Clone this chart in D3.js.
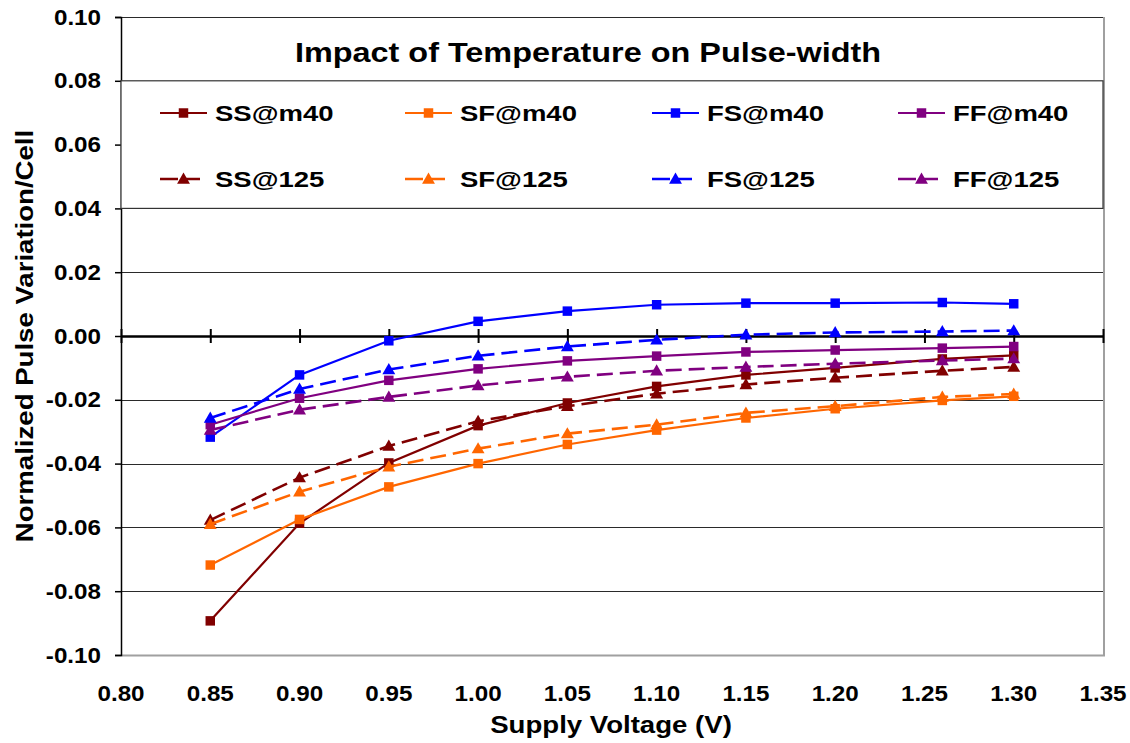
<!DOCTYPE html>
<html>
<head>
<meta charset="utf-8">
<script src="https://cdn.jsdelivr.net/npm/d3@7"></script>
<style>
  body { margin: 0; background: #fff; }
  text { font-family: "Liberation Sans", Arial, sans-serif; font-weight: bold; fill: #000; }
</style>
</head>
<body>
<svg id="chart"></svg>
<script>
// supply voltage (V)
const voltage = [0.85, 0.90, 0.95, 1.00, 1.05, 1.10, 1.15, 1.20, 1.26, 1.30];

// normalized pulse variation per cell
const ssM40 = [-0.0893, -0.0587, -0.0398, -0.0281, -0.0210, -0.0158, -0.0122, -0.0100, -0.0072, -0.0061];
const sfM40 = [-0.0718, -0.0575, -0.0473, -0.0400, -0.0340, -0.0295, -0.0257, -0.0228, -0.0202, -0.0189];
const fsM40 = [-0.0317, -0.0122, -0.0015, 0.0046, 0.0078, 0.0098, 0.0103, 0.0103, 0.0105, 0.0101];
const ffM40 = [-0.0278, -0.0195, -0.0139, -0.0103, -0.0078, -0.0063, -0.0050, -0.0044, -0.0038, -0.0033];
const ss125 = [-0.0577, -0.0444, -0.0345, -0.0267, -0.0220, -0.0181, -0.0152, -0.0131, -0.0109, -0.0097];
const sf125 = [-0.0590, -0.0488, -0.0410, -0.0353, -0.0306, -0.0278, -0.0241, -0.0220, -0.0191, -0.0182];
const fs125 = [-0.0257, -0.0166, -0.0105, -0.0062, -0.0033, -0.0012, 0.0004, 0.0011, 0.0014, 0.0017];
const ff125 = [-0.0295, -0.0231, -0.0191, -0.0155, -0.0128, -0.0109, -0.0097, -0.0087, -0.0077, -0.0071];

const seriesNames = ["SS@m40", "SF@m40", "FS@m40", "FF@m40", "SS@125", "SF@125", "FS@125", "FF@125"];
const seriesValues = [ssM40, sfM40, fsM40, ffM40, ss125, sf125, fs125, ff125];

const xTicks = [0.80, 0.85, 0.90, 0.95, 1.00, 1.05, 1.10, 1.15, 1.20, 1.25, 1.30, 1.35];
const yTicks = [-0.10, -0.08, -0.06, -0.04, -0.02, 0.00, 0.02, 0.04, 0.06, 0.08, 0.10];

const colors = { SS: "#800000", SF: "#ff6600", FS: "#0000ff", FF: "#800080" };

const width = 1130;
const height = 743;
const plotLeft = 121, plotRight = 1103, plotTop = 17, plotBottom = 655;
const stretch = 1.2; // the original text is drawn wider than Arial

const svg = d3.select("#chart")
    .attr("width", width)
    .attr("height", height);

const x = d3.scaleLinear().domain([0.80, 1.35]).range([plotLeft, plotRight]);
const y = d3.scaleLinear().domain([-0.10, 0.10]).range([plotBottom, plotTop]);

function label(g, str, px, py, size, anchor, rotate, sx) {
    const t = g.append("g")
        .attr("transform", `translate(${px},${py})` + (rotate ? " rotate(-90)" : "") + ` scale(${sx || stretch},1)`);
    t.append("text")
        .attr("text-anchor", anchor)
        .attr("dominant-baseline", "central")
        .style("font-size", size + "px")
        .text(str);
}

// plot frame
svg.append("line").attr("x1", plotRight + 1).attr("x2", plotRight + 1).attr("y1", plotTop).attr("y2", plotBottom)
    .attr("stroke", "#a0a0a0").attr("stroke-width", 2);
svg.append("line").attr("x1", plotLeft).attr("x2", plotRight + 2).attr("y1", plotBottom + 0.5).attr("y2", plotBottom + 0.5)
    .attr("stroke", "#a0a0a0").attr("stroke-width", 2);

// gridlines
svg.append("g")
    .selectAll("line")
    .data(yTicks.filter(d => d !== 0 && d !== -0.10))
    .enter().append("line")
    .attr("x1", plotLeft).attr("x2", plotRight)
    .attr("y1", d => Math.round(y(d)) + 0.5).attr("y2", d => Math.round(y(d)) + 0.5)
    .attr("stroke", "#2a2a2a").attr("stroke-width", 1.2);

// y axis on the left
const yAxis = svg.append("g").attr("transform", `translate(${plotLeft},0)`)
    .call(d3.axisLeft(y).tickValues(yTicks).tickSize(6).tickFormat(""));
yAxis.select(".domain").attr("stroke", "#000").attr("stroke-width", 1.5);
yAxis.selectAll(".tick line").attr("stroke", "#000").attr("stroke-width", 1.5);

yTicks.forEach(v => label(svg, v.toFixed(2), 101, y(v), 22, "end", false, 1.1));

// x axis crossing at zero
const xAxis = svg.append("g").attr("transform", `translate(0,${y(0)})`)
    .call(d3.axisBottom(x).tickValues(xTicks).tickSize(6).tickSizeOuter(0).tickFormat(""));
xAxis.select(".domain").attr("stroke", "#000").attr("stroke-width", 2.5);
xAxis.selectAll(".tick line").attr("y1", -7).attr("y2", 7).attr("stroke", "#000").attr("stroke-width", 2);

xTicks.forEach(v => label(svg, v.toFixed(2), x(v), 693, 22, "middle", false, 1.1));

// legend box and title
svg.append("rect")
    .attr("x", plotLeft).attr("y", y(0.08))
    .attr("width", plotRight - plotLeft).attr("height", y(0.04) - y(0.08))
    .attr("fill", "#fff").attr("stroke", "#333").attr("stroke-width", 1.2);

label(svg, "Impact of Temperature on Pulse-width", 588, 52, 27, "middle");
label(svg, "Supply Voltage (V)", 611, 725, 23, "middle");
label(svg, "Normalized Pulse Variation/Cell", 25, 336, 23, "middle", true);

const line = d3.line()
    .x((d, i) => x(voltage[i]))
    .y(d => y(d));

const square = d3.symbol().type(d3.symbolSquare).size(90);
const triangle = d3.symbol().type(d3.symbolTriangle).size(72);

function drawMarker(g, name, px, py) {
    const hot = name.endsWith("125");
    g.append("path")
        .attr("d", hot ? triangle() : square())
        .attr("transform", `translate(${px},${py + (hot ? 1 : 0)})`)
        .attr("fill", colors[name.slice(0, 2)]);
}

// series
seriesNames.forEach((name, k) => {
    const hot = name.endsWith("125");
    const g = svg.append("g");
    g.append("path")
        .datum(seriesValues[k])
        .attr("d", line)
        .attr("fill", "none")
        .attr("stroke", colors[name.slice(0, 2)])
        .attr("stroke-width", hot ? 2.6 : 2.2)
        .attr("stroke-dasharray", hot ? "16,7" : null);
    seriesValues[k].forEach((v, i) => drawMarker(g, name, x(voltage[i]), y(v)));
});

// legend entries
const legendX = [160, 405, 652, 898];
const legendY = [113, 179];
seriesNames.forEach((name, k) => {
    const hot = name.endsWith("125");
    const lx = legendX[k % 4];
    const ly = legendY[Math.floor(k / 4)];
    const g = svg.append("g");
    g.append("line")
        .attr("x1", lx).attr("x2", lx + (hot ? 42 : 47)).attr("y1", ly).attr("y2", ly)
        .attr("stroke", colors[name.slice(0, 2)])
        .attr("stroke-width", hot ? 2.6 : 2.2)
        .attr("stroke-dasharray", hot ? "18,4" : null);
    drawMarker(g, name, lx + 23.5, ly);
    label(g, name, lx + 55, ly, 22, "start", false, 1.25);
});
</script>
</body>
</html>
